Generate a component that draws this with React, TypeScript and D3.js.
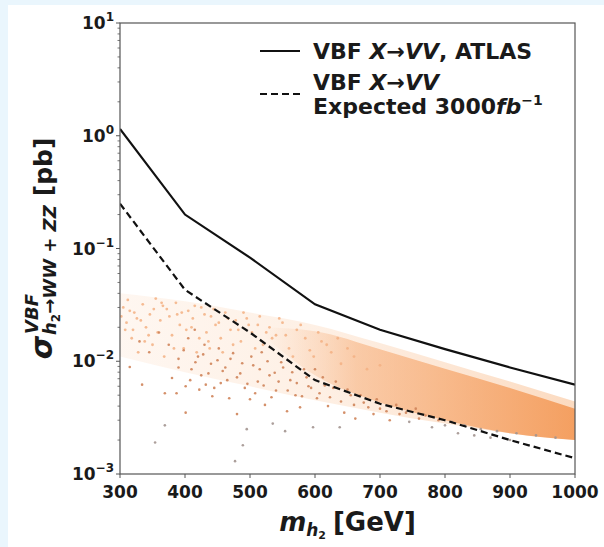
import React, { useEffect, useRef } from 'react';
import * as d3 from 'd3';

// exclusion limits (pb) vs m_h2 (GeV)
const massPoints = [300, 400, 500, 600, 700, 800, 900, 1000];
const atlasObserved = [1.15, 0.2, 0.083, 0.032, 0.019, 0.0128, 0.0088, 0.0062];
const expected3000 = [0.25, 0.043, 0.018, 0.0068, 0.0042, 0.003, 0.002, 0.00138];

// diffuse pale cloud of scan points
const cloudMass = [300, 400, 500, 600, 700, 800, 900, 1000];
const cloudTop = [0.04, 0.034, 0.027, 0.021, 0.0145, 0.0098, 0.0066, 0.0044];
const cloudBottom = [0.011, 0.008, 0.006, 0.0045, 0.0035, 0.0028, 0.0023, 0.002];

// dense core of scan points
const coreMass = [520, 600, 700, 800, 900, 1000];
const coreTop = [0.02, 0.0185, 0.0128, 0.0086, 0.0058, 0.0038];
const coreBottom = [0.017, 0.0075, 0.0043, 0.003, 0.0023, 0.002];

// scattered points, light
const paleMass = [305, 310, 312, 318, 322, 328, 335, 340, 346, 350, 355, 362, 368, 372, 380, 386, 392, 398, 405, 412,
  418, 425, 433, 440, 447, 455, 462, 470, 478, 486, 495, 503, 512, 520, 530, 540, 550, 560, 572, 585,
  598, 610, 625, 640, 660, 680, 700, 308, 326, 344, 366, 388, 410, 436, 458, 482, 508, 534, 566, 592,
  302, 315, 320, 332, 338, 352, 358, 364, 376, 383, 395, 402, 415, 422, 430, 438, 444, 452, 466, 474,
  490, 498, 515, 525, 545, 555, 578, 605, 618, 635, 650];
const paleSigma = [0.030, 0.022, 0.035, 0.016, 0.027, 0.012, 0.032, 0.020, 0.026, 0.014, 0.036, 0.023, 0.011, 0.029, 0.017, 0.033, 0.021, 0.013, 0.028, 0.024,
  0.012, 0.030, 0.018, 0.025, 0.021, 0.016, 0.027, 0.019, 0.023, 0.015, 0.024, 0.018, 0.021, 0.014, 0.020, 0.017, 0.022, 0.013, 0.019, 0.016,
  0.011, 0.015, 0.012, 0.0095, 0.011, 0.0085, 0.0092, 0.019, 0.024, 0.017, 0.031, 0.026, 0.020, 0.015, 0.012, 0.019, 0.013, 0.016, 0.011, 0.0125,
  0.025, 0.028, 0.019, 0.023, 0.015, 0.029, 0.018, 0.033, 0.025, 0.013, 0.027, 0.019, 0.031, 0.016, 0.026, 0.013, 0.029, 0.022, 0.024, 0.014,
  0.027, 0.021, 0.025, 0.018, 0.024, 0.017, 0.021, 0.018, 0.014, 0.016, 0.013];

// scattered points, dark
const darkMass = [315, 334, 354, 369, 369, 380, 387, 401, 401, 410, 420, 425, 432, 440, 445, 452, 458, 465, 470, 477,
  480, 485, 489, 492, 495, 500, 505, 512, 518, 523, 530, 535, 540, 548, 554, 557, 562, 570, 577, 583,
  590, 597, 603, 612, 620, 628, 638, 645, 655, 662, 675, 690, 700, 715, 730, 745, 760, 780, 800, 820,
  845, 870, 900, 330, 345, 360, 375, 390, 405, 415, 430,
  390, 398, 408, 416, 422, 428, 436, 442, 450, 455, 462, 468, 474, 480, 488, 496, 502, 508, 515, 521,
  527, 533, 538, 544, 551, 558, 565, 572, 580, 587, 594, 600, 607, 615, 623, 632, 640, 650, 660, 670,
  682, 695, 710, 725, 740, 755, 770, 790, 810, 830, 855, 880, 910, 940, 970];
const darkSigma = [0.0089, 0.0062, 0.0019, 0.0027, 0.0052, 0.0071, 0.0052, 0.0060, 0.0035, 0.0085, 0.0110, 0.0075, 0.0062, 0.0095, 0.0058, 0.0130, 0.0082, 0.0068, 0.0105, 0.0013,
  0.0034, 0.0078, 0.0018, 0.0058, 0.0025, 0.0046, 0.0092, 0.0066, 0.0120, 0.0041, 0.0075, 0.0028, 0.0055, 0.0098, 0.0024, 0.0036, 0.0068, 0.0050, 0.0039, 0.0085,
  0.0060, 0.0026, 0.0047, 0.0072, 0.0040, 0.0058, 0.0026, 0.0035, 0.0050, 0.0031, 0.0043, 0.0034, 0.0038, 0.0030, 0.0034, 0.0029, 0.0031, 0.0026, 0.0027, 0.0023,
  0.0022, 0.0021, 0.0020, 0.0150, 0.0120, 0.0180, 0.0140, 0.0105, 0.0160, 0.0190, 0.0140,
  0.0088, 0.0125, 0.0068, 0.0098, 0.0056, 0.0115, 0.0078, 0.0049, 0.0102, 0.0064, 0.0088, 0.0047, 0.0118, 0.0072, 0.0096, 0.0063, 0.0110, 0.0052, 0.0085, 0.0061,
  0.0100, 0.0048, 0.0079, 0.0066, 0.0088, 0.0055, 0.0080, 0.0064, 0.0049, 0.0072, 0.0058, 0.0085, 0.0052, 0.0061, 0.0048, 0.0066, 0.0044, 0.0056, 0.0041, 0.0050,
  0.0039, 0.0046, 0.0036, 0.0041, 0.0035, 0.0038, 0.0033, 0.0030, 0.0029, 0.0027, 0.0025, 0.0024, 0.0023, 0.0022, 0.0021];

const xTicks = [300, 400, 500, 600, 700, 800, 900, 1000];
const yTicks = [1e-3, 1e-2, 1e-1, 1, 10];
const yTickExp = ['\u22123', '\u22122', '\u22121', '0', '1'];

const App = () => {
  const svgRef = useRef(null);

  useEffect(() => {
    const svg = d3.select(svgRef.current);
    svg.selectAll('*').remove();
    const font = 'DejaVu Sans';
    const left = 120, right = 575, top = 23, bottom = 474;

    svg.append('rect').attr('width', 604).attr('height', 547).attr('fill', '#eaf6fd');
    svg.append('rect').attr('x', 8).attr('y', 5).attr('width', 596).attr('height', 542).attr('fill', '#fff');

    const x = d3.scaleLinear().domain([300, 1000]).range([left, right]);
    const y = d3.scaleLog().domain([1e-3, 10]).range([bottom, top]);

    const defs = svg.append('defs');
    defs.append('clipPath').attr('id', 'plotclip')
      .append('rect').attr('x', left).attr('y', top).attr('width', right - left).attr('height', bottom - top);

    const g1 = defs.append('linearGradient').attr('id', 'cloudgrad')
      .attr('gradientUnits', 'userSpaceOnUse').attr('x1', left).attr('x2', right).attr('y1', 0).attr('y2', 0);
    g1.append('stop').attr('offset', '0').attr('stop-color', '#fde3cf').attr('stop-opacity', 0.3);
    g1.append('stop').attr('offset', '0.45').attr('stop-color', '#fcd8bb').attr('stop-opacity', 0.4);
    g1.append('stop').attr('offset', '1').attr('stop-color', '#f9c296').attr('stop-opacity', 0.6);

    const g2 = defs.append('linearGradient').attr('id', 'coregrad')
      .attr('gradientUnits', 'userSpaceOnUse').attr('x1', x(520)).attr('x2', right).attr('y1', 0).attr('y2', 0);
    g2.append('stop').attr('offset', '0').attr('stop-color', '#f8b583').attr('stop-opacity', 0);
    g2.append('stop').attr('offset', '0.3').attr('stop-color', '#f6a76d').attr('stop-opacity', 0.5);
    g2.append('stop').attr('offset', '1').attr('stop-color', '#f39550').attr('stop-opacity', 0.85);

    const plot = svg.append('g').attr('clip-path', 'url(#plotclip)');

    const cloud = cloudMass.map((m, i) => ({ m, t: cloudTop[i], b: cloudBottom[i] }));
    const core = coreMass.map((m, i) => ({ m, t: coreTop[i], b: coreBottom[i] }));
    const area = d3.area()
      .x(d => x(d.m)).y0(d => y(d.b)).y1(d => y(d.t))
      .curve(d3.curveMonotoneX);

    plot.append('path').attr('d', area(cloud)).attr('fill', 'url(#cloudgrad)');
    plot.append('path').attr('d', area(core)).attr('fill', 'url(#coregrad)');

    plot.selectAll('circle.pale')
      .data(paleMass.map((m, i) => [m, paleSigma[i]]))
      .enter().append('circle')
      .attr('cx', d => x(d[0])).attr('cy', d => y(d[1])).attr('r', 1.4)
      .attr('fill', '#f3b083').attr('opacity', 0.85);

    plot.selectAll('circle.dark')
      .data(darkMass.map((m, i) => [m, darkSigma[i]]))
      .enter().append('circle')
      .attr('cx', d => x(d[0])).attr('cy', d => y(d[1])).attr('r', 1.3)
      .attr('fill', d => (d[1] < 0.003 ? '#a39590' : '#cf845a')).attr('opacity', 0.9);

    const line = d3.line().x(d => x(d[0])).y(d => y(d[1]));
    plot.append('path')
      .attr('d', line(massPoints.map((m, i) => [m, atlasObserved[i]])))
      .attr('fill', 'none').attr('stroke', '#111').attr('stroke-width', 2.2);
    plot.append('path')
      .attr('d', line(massPoints.map((m, i) => [m, expected3000[i]])))
      .attr('fill', 'none').attr('stroke', '#111').attr('stroke-width', 2.2)
      .attr('stroke-dasharray', '7,4');

    // frame
    svg.append('rect').attr('x', left).attr('y', top).attr('width', right - left).attr('height', bottom - top)
      .attr('fill', 'none').attr('stroke', '#555').attr('stroke-width', 1.2);

    // x ticks
    xTicks.forEach(t => {
      svg.append('line').attr('x1', x(t)).attr('x2', x(t)).attr('y1', bottom).attr('y2', bottom + 4)
        .attr('stroke', '#555').attr('stroke-width', 1);
      svg.append('text').attr('x', x(t)).attr('y', bottom + 24).attr('text-anchor', 'middle')
        .attr('font-family', font).attr('font-weight', 'bold').attr('font-size', 17).attr('fill', '#1a1a1a')
        .text(t);
    });

    // y ticks, major and minor
    for (let e = -3; e < 1; e++) {
      for (let k = 2; k < 10; k++) {
        const v = k * Math.pow(10, e);
        svg.append('line').attr('x1', left - 2.5).attr('x2', left).attr('y1', y(v)).attr('y2', y(v))
          .attr('stroke', '#555').attr('stroke-width', 0.8);
      }
    }
    yTicks.forEach((t, i) => {
      svg.append('line').attr('x1', left - 4).attr('x2', left).attr('y1', y(t)).attr('y2', y(t))
        .attr('stroke', '#555').attr('stroke-width', 1);
      const tx = svg.append('text').attr('x', left - 6).attr('y', y(t) + 6).attr('text-anchor', 'end')
        .attr('font-family', font).attr('font-weight', 'bold').attr('fill', '#1a1a1a');
      tx.append('tspan').attr('font-size', 17).text('10');
      tx.append('tspan').attr('font-size', 12).attr('dy', -8).text(yTickExp[i]);
    });

    // x label
    const xl = svg.append('text').attr('x', (left + right) / 2).attr('y', 531).attr('text-anchor', 'middle')
      .attr('font-family', font).attr('font-weight', 'bold').attr('font-size', 26).attr('fill', '#1a1a1a');
    xl.append('tspan').attr('font-style', 'italic').text('m');
    xl.append('tspan').attr('font-style', 'italic').attr('font-size', 17).attr('dy', 5).text('h');
    xl.append('tspan').attr('font-size', 11).attr('dy', 3).text('2');
    xl.append('tspan').attr('dy', -8).attr('dx', 7).text('[GeV]');

    // y label (rotated), pieces measured and centred
    const yl = svg.append('g').attr('transform', `translate(52,${(top + bottom) / 2}) rotate(-90)`);
    const piece = (txt, size, italic, dy) => yl.append('text')
      .attr('font-family', font).attr('font-weight', 'bold').attr('font-size', size)
      .attr('font-style', italic ? 'italic' : 'normal').attr('fill', '#1a1a1a')
      .attr('y', dy).text(txt);
    const sig = piece('\u03c3', 30, true, 0);
    const sup = piece('VBF', 18, true, -14);
    const subH = piece('h', 18, true, 4);
    const sub2 = piece('2', 12, false, 8);
    const subRest = piece('\u2192WW + ZZ', 18, true, 4);
    const pb = piece('[pb]', 25, false, 0);
    const w = s => s.node().getComputedTextLength();
    let u = 0;
    sig.attr('x', u); u += w(sig) + 1;
    sup.attr('x', u + 1);
    subH.attr('x', u);
    sub2.attr('x', u + w(subH));
    subRest.attr('x', u + w(subH) + w(sub2));
    const subEnd = u + w(subH) + w(sub2) + w(subRest);
    u = Math.max(subEnd, u + w(sup)) + 9;
    pb.attr('x', u); u += w(pb);
    const shift = -u / 2;
    [sig, sup, subH, sub2, subRest, pb].forEach(s => s.attr('x', +s.attr('x') + shift));

    // legend
    const lg = svg.append('g');
    lg.append('line').attr('x1', 260).attr('x2', 300).attr('y1', 51).attr('y2', 51)
      .attr('stroke', '#111').attr('stroke-width', 2.2);
    lg.append('line').attr('x1', 260).attr('x2', 300).attr('y1', 94).attr('y2', 94)
      .attr('stroke', '#111').attr('stroke-width', 2.2).attr('stroke-dasharray', '7,4');
    const lt = (yy) => lg.append('text').attr('x', 313).attr('y', yy)
      .attr('font-family', font).attr('font-weight', 'bold').attr('font-size', 22).attr('fill', '#1a1a1a');
    const r1 = lt(59);
    r1.append('tspan').text('VBF ');
    r1.append('tspan').attr('font-style', 'italic').text('X\u2192VV');
    r1.append('tspan').text(', ATLAS');
    const r2 = lt(90);
    r2.append('tspan').text('VBF ');
    r2.append('tspan').attr('font-style', 'italic').text('X\u2192VV');
    const r3 = lt(114);
    r3.append('tspan').text('Expected 3000');
    r3.append('tspan').attr('font-style', 'italic').text('fb');
    r3.append('tspan').attr('font-size', 14).attr('dy', -9).text('\u22121');
  }, []);

  return (
    <svg ref={svgRef} width={604} height={547}
      style={{ position: 'absolute', left: 0, top: 0, display: 'block' }} />
  );
};

export default App;
